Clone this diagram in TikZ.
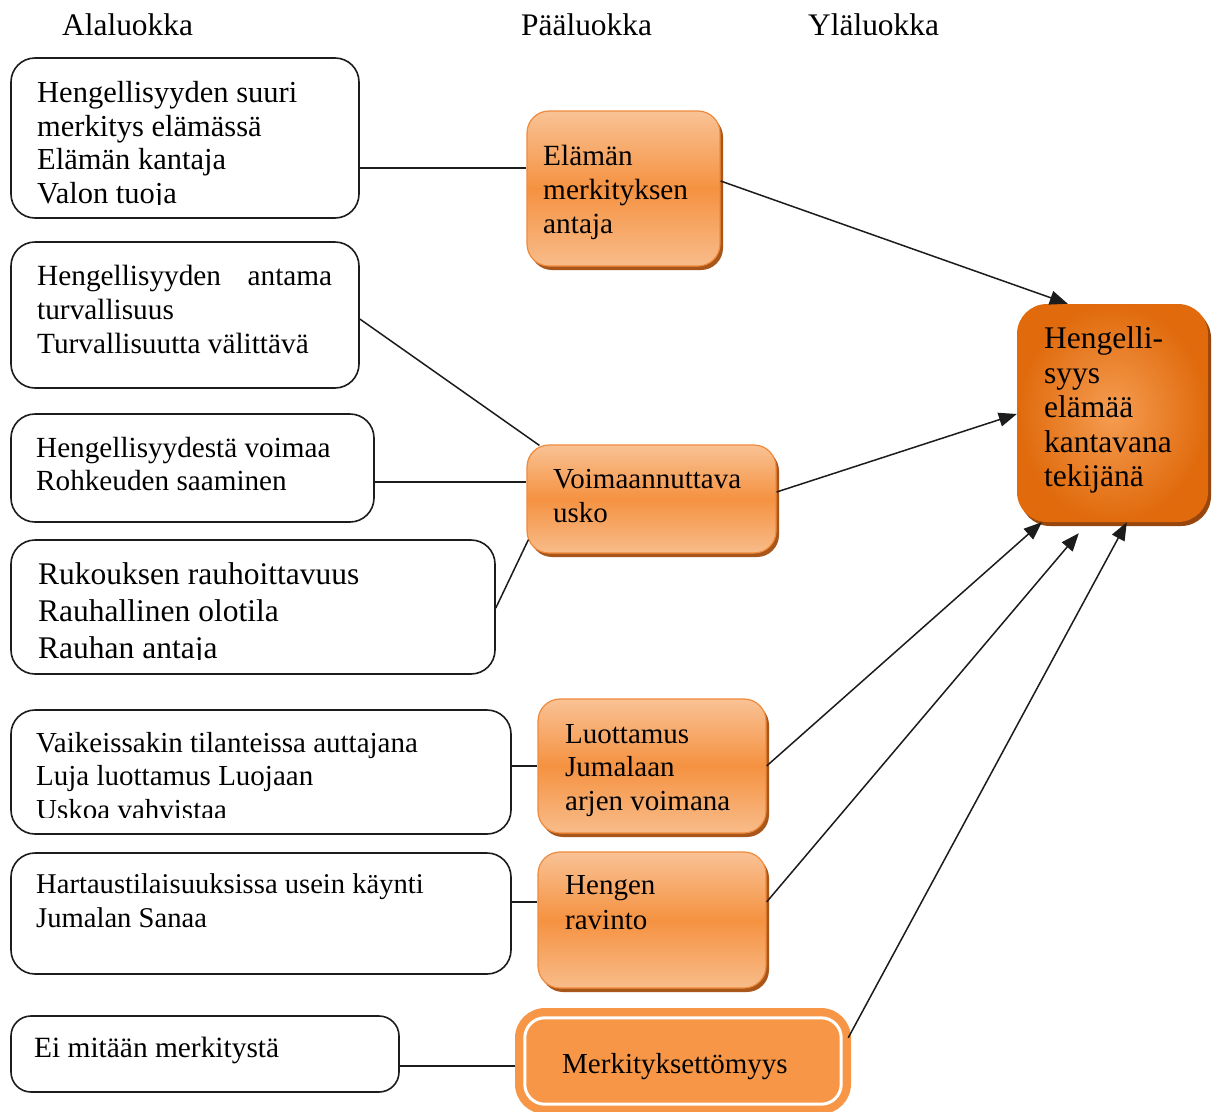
\documentclass[tikz,border=0pt]{standalone}
\usepackage{fontspec}
\setmainfont{Liberation Serif}
\usetikzlibrary{arrows.meta,shadows}

\definecolor{boxline}{HTML}{1C1C1C}
\definecolor{orline}{HTML}{F08A3C}
\definecolor{ortop}{HTML}{F9C295}
\definecolor{ormid}{HTML}{F59241}
\definecolor{orbot}{HTML}{F8BC8A}
\definecolor{orshadow}{HTML}{A9561B}
\definecolor{orflat}{HTML}{F79646}
\definecolor{ordark}{HTML}{E06A0C}
\definecolor{orglow}{HTML}{F59D52}
\definecolor{ordshadow}{HTML}{97460E}

% several lines of text, first baseline = node base, fixed line distance
\newcommand\textlines[2]{\vtop{\baselineskip=#1pt\lineskiplimit=-1000pt\lineskip=0pt
  \halign{##\hfil\cr#2\crcr}}}
\newcommand\fs[1]{\fontsize{#1pt}{#1pt}\selectfont}

\tikzset{
  lbox/.style={draw=boxline, line width=1.6pt, rounded corners=24pt, fill=white, inner sep=0pt},
  obox/.style={draw=orline, line width=1.2pt, rounded corners=22pt,
    top color=ortop, bottom color=orbot, middle color=ormid, inner sep=0pt,
    drop shadow={shadow xshift=3pt, shadow yshift=-4pt, opacity=1, fill=orshadow}},
  txt/.style={anchor=base west, inner sep=0pt},
  conn/.style={line width=1.5pt, draw=boxline},
  arr/.style={line width=1.5pt, draw=boxline, -{Triangle[length=18pt,width=14pt]}},
}

\begin{document}
\begin{tikzpicture}[x=1pt,y=-1pt]
\useasboundingbox (0,0) rectangle (1215,1111);
\fill[white] (0,0) rectangle (1215,1111);

% column headings
\node[txt, font=\fs{31.4}] (h1) at (62,35) {Alaluokka};
\node[txt, font=\fs{31.4}] (h2) at (521,35) {Pääluokka};
\node[txt, font=\fs{31.4}] (h3) at (808,35) {Yläluokka};

% sub-category boxes
\node[lbox, minimum width=348pt, minimum height=160pt] (b1) at (185,138) {};
\node[lbox, minimum width=348pt, minimum height=146pt] (b2) at (185,315) {};
\node[lbox, minimum width=363pt, minimum height=108pt] (b3) at (192.5,468) {};
\node[lbox, minimum width=484pt, minimum height=134pt] (b4) at (253,607) {};
\node[lbox, minimum width=500pt, minimum height=124pt] (b5) at (261,772) {};
\node[lbox, minimum width=500pt, minimum height=121pt] (b6) at (261,913.5) {};
\node[lbox, minimum width=388pt, minimum height=76pt, rounded corners=20pt] (b7) at (205,1054) {};

\begin{scope}
  \clip (0,0) rectangle (400,204);
  \node[txt, font=\fs{30.5}] (t1) at (37,102.5) {\textlines{33.5}{Hengellisyyden suuri\cr
    merkitys elämässä\cr Elämän kantaja\cr Valon tuoja}};
\end{scope}
\node[txt, font=\fs{29.3}] (t2) at (37,285) {\textlines{34}{\hbox to 295pt{Hengellisyyden\hfil antama}\cr
  turvallisuus\cr Turvallisuutta välittävä}};
\node[txt, font=\fs{29.2}] (t3) at (36,457) {\textlines{33}{Hengellisyydestä voimaa\cr
  Rohkeuden saaminen}};
\begin{scope}
  \clip (0,540) rectangle (500,659);
  \node[txt, font=\fs{31.5}] (t4) at (38,584) {\textlines{37}{Rukouksen rauhoittavuus\cr
    Rauhallinen olotila\cr Rauhan antaja}};
\end{scope}
\begin{scope}
  \clip (0,700) rectangle (520,817);
  \node[txt, font=\fs{29}] (t5) at (36,752) {\textlines{33.5}{Vaikeissakin tilanteissa auttajana\cr
    Luja luottamus Luojaan\cr Uskoa vahvistaa}};
\end{scope}
\node[txt, font=\fs{28.6}] (t6) at (36,893) {\textlines{34}{Hartaustilaisuuksissa usein käynti\cr
  Jumalan Sanaa}};
\node[txt, font=\fs{29.4}] (t7) at (34,1057) {Ei mitään merkitystä};

% main categories
\node[obox, minimum width=193pt, minimum height=155pt] (A) at (623.5,188.5) {};
\node[obox, minimum width=249pt, minimum height=108pt] (B) at (651.5,499) {};
\node[obox, minimum width=228pt, minimum height=134pt] (C) at (652,766) {};
\node[obox, minimum width=228pt, minimum height=136pt] (D) at (652,920) {};
\node[txt, font=\fs{29.3}] (tA) at (543,165) {\textlines{34}{Elämän\cr merkityksen\cr antaja}};
\node[txt, font=\fs{29}] (tB) at (553,488) {\textlines{34}{Voimaannuttava\cr usko}};
\node[txt, font=\fs{29}] (tC) at (565,743) {\textlines{33.5}{Luottamus\cr Jumalaan\cr arjen voimana}};
\node[txt, font=\fs{29}] (tD) at (565,894) {\textlines{35}{Hengen\cr ravinto}};

% the separate category with a double frame
\node[fill=orflat, rounded corners=30pt, minimum width=336pt, minimum height=106pt, inner sep=0pt] (E) at (683,1061) {};
\draw[white, line width=3pt, rounded corners=20pt]
  ([shift={(10pt,-10pt)}]E.north west) rectangle ([shift={(-10pt,10pt)}]E.south east);
\node[txt, font=\fs{29}] (tE) at (562,1073) {Merkityksettömyys};

% upper category
\node[inner color=orglow, outer color=ordark, rounded corners=30pt, minimum width=191pt,
  minimum height=218pt, inner sep=0pt,
  drop shadow={shadow xshift=3pt, shadow yshift=-4pt, opacity=1, fill=ordshadow}] (F) at (1112.5,413) {};
\node[txt, font=\fs{31.5}] (tF) at (1044,348.5) {\textlines{34.5}{Hengelli-\cr syys\cr elämää\cr kantavana\cr tekijänä}};

% sub-category links
\draw[conn] (b1.east |- 0,168) -- (A.west |- 0,168);
\draw[conn] (b2.east |- 0,319) -- ([shift={(13pt,-1pt)}]B.north west);
\draw[conn] (b3.east |- 0,482) -- (B.west |- 0,482);
\draw[conn] (b4.east |- 0,608) -- ([shift={(2pt,14pt)}]B.south west);
\draw[conn] (b5.east |- 0,766) -- (C.west |- 0,766);
\draw[conn] (b6.east |- 0,902) -- (D.west |- 0,902);
\draw[conn] (b7.east |- 0,1066) -- (E.west |- 0,1066);

% arrows to the upper category
\draw[arr] (A.east |- 0,181) -- ([xshift=51pt]F.north west);
\draw[arr] (B.east |- 0,492) -- (F.west |- 0,414);
\draw[arr] (C.east |- 0,766) -- ([xshift=25pt]F.south west);
\draw[arr] (D.east |- 0,902) -- ([shift={(62pt,-11pt)}]F.south west);
\draw[arr] ([shift={(-3pt,-30pt)}]E.north east) -- ([xshift=110pt]F.south west);
\end{tikzpicture}
\end{document}
